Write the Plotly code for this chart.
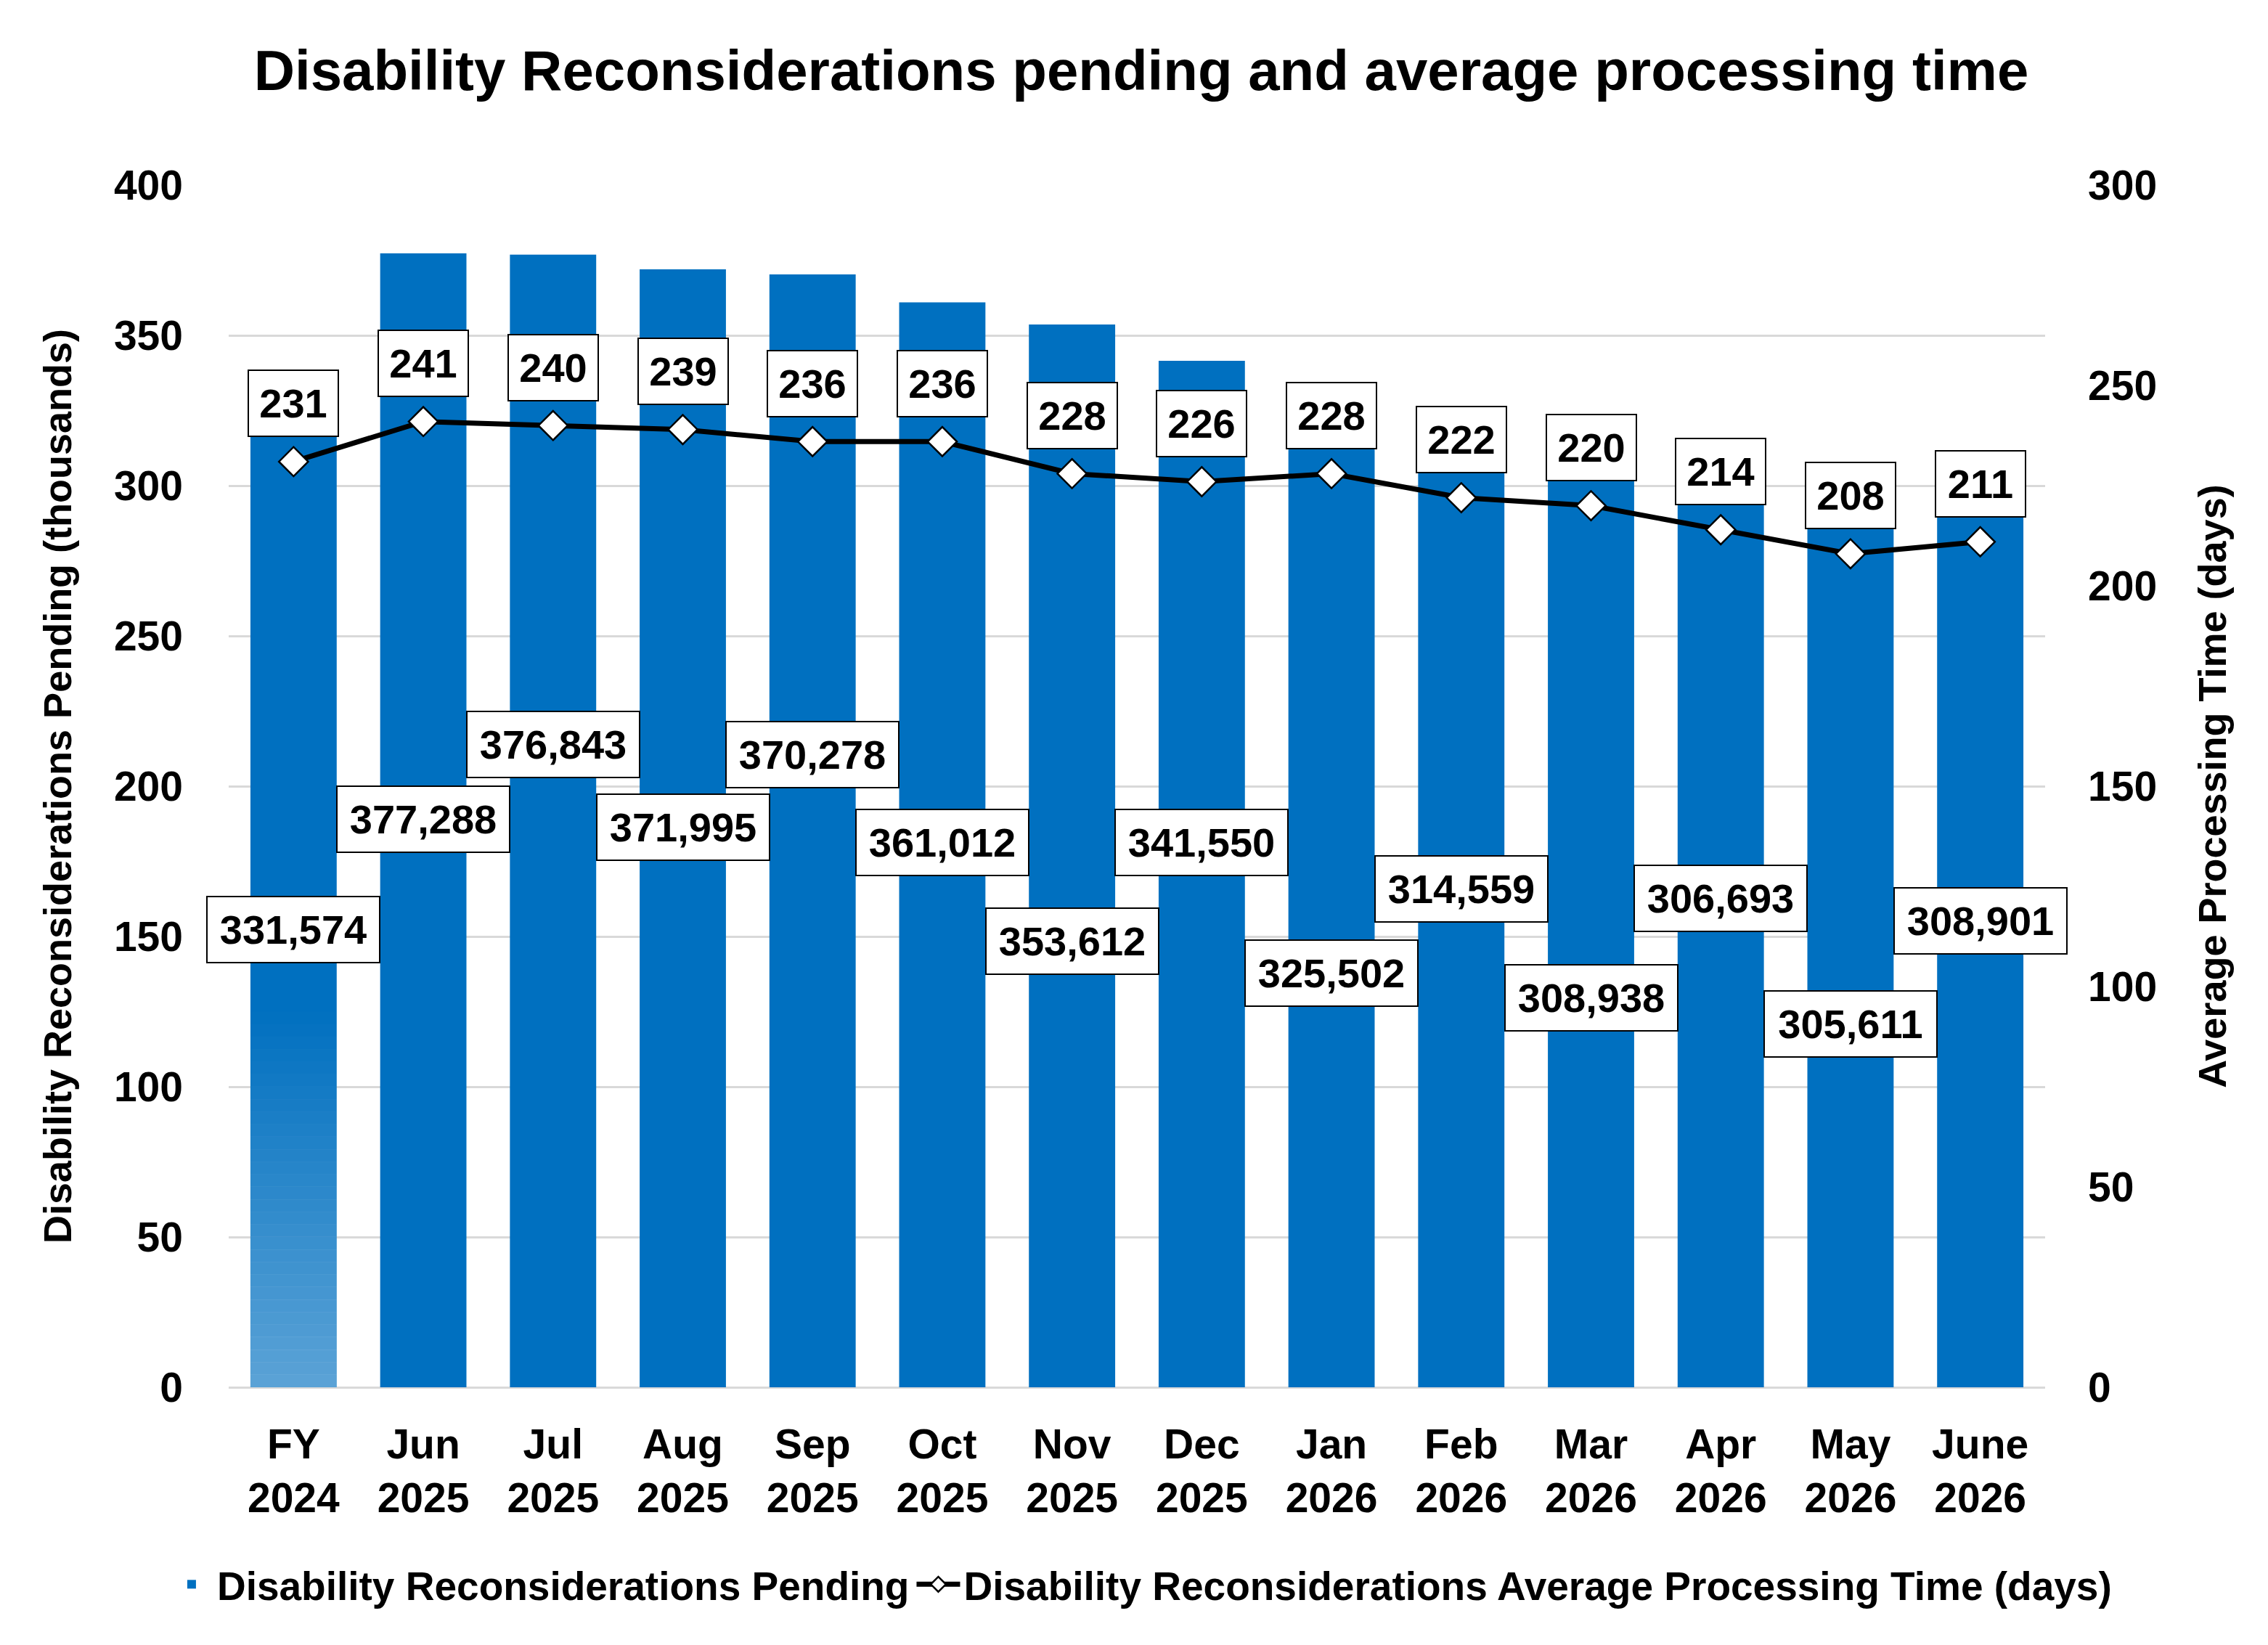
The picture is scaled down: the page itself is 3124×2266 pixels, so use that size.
import plotly.graph_objects as go

# ---------------- data ----------------
CATEGORIES = ["FY 2024", "Jun 2025", "Jul 2025", "Aug 2025", "Sep 2025", "Oct 2025",
              "Nov 2025", "Dec 2025", "Jan 2026", "Feb 2026", "Mar 2026", "Apr 2026",
              "May 2026", "June 2026"]
PENDING = [331574, 377288, 376843, 371995, 370278, 361012, 353612, 341550,
           325502, 314559, 308938, 306693, 305611, 308901]
AVG_DAYS = [231, 241, 240, 239, 236, 236, 228, 226, 228, 222, 220, 214, 208, 211]

BAR_NAME = "Disability Reconsiderations Pending"
LINE_NAME = "Disability Reconsiderations Average Processing Time (days)"
TITLE = "Disability Reconsiderations pending and average processing time"
Y1_TITLE = "Disability Reconsiderations Pending (thousands)"
Y2_TITLE = "Average Processing Time (days)"

# label placement (style: vertical centre of each bar-value box, in thousands)
BAR_LABEL_Y = [152.2, 189.1, 214.0, 186.4, 210.4, 181.4, 148.5, 181.4,
               137.9, 165.9, 129.7, 162.6, 121.0, 155.3]

# ---------------- style ----------------
BLUE = "#0070C0"
GRID = "#D9D9D9"
NUM_FONT = "Liberation Sans, Arial, sans-serif"
TXT_FONT = "Liberation Sans, Arial, sans-serif"
BAR_W = 0.665

# page has an 8px body margin; figure sized so it fits the 3124x2266 window
FIG_W, FIG_H = 3108, 2250

pending_k = [v / 1000 for v in PENDING]

fig = go.Figure()
fig.add_trace(go.Bar(
    x=CATEGORIES, y=pending_k, name=BAR_NAME, legendgroup="pending",
    marker=dict(color=BLUE, line=dict(width=0)),
    yaxis="y", hoverinfo="skip",
))
fig.add_trace(go.Scatter(
    x=CATEGORIES, y=AVG_DAYS, name=LINE_NAME, yaxis="y2", legendgroup="days",
    mode="lines+markers",
    line=dict(color="black", width=7),
    marker=dict(symbol="diamond", size=31, color="white",
                line=dict(color="black", width=2.5)),
    hoverinfo="skip",
))

# gradient on the first (fiscal-year) bar: white veil fading upward
n_bands = 30
grad_top = 125.0
for i in range(n_bands):
    y0 = grad_top * i / n_bands
    y1 = grad_top * (i + 1) / n_bands
    mid = (y0 + y1) / 2
    op = 0.36 * (1 - mid / grad_top)
    fig.add_shape(type="rect", xref="x", yref="y",
                  x0=CATEGORIES[0], x1=CATEGORIES[0],
                  x0shift=-BAR_W / 2, x1shift=BAR_W / 2,
                  y0=y0, y1=y1 + 0.05,
                  fillcolor=f"rgba(255,255,255,{op:.3f})",
                  line=dict(width=0), layer="above")

annotations = []
for cat, val, ly in zip(CATEGORIES, PENDING, BAR_LABEL_Y):
    annotations.append(dict(
        x=cat, y=ly, xref="x", yref="y", text=f"{val:,}", showarrow=False,
        font=dict(family=NUM_FONT, size=56, color="black", weight="bold"),
        bgcolor="white", bordercolor="black", borderwidth=2, borderpad=0,
        width=236, height=89, xanchor="center", yanchor="middle",
    ))
for cat, val in zip(CATEGORIES, AVG_DAYS):
    annotations.append(dict(
        x=cat, y=val, xref="x", yref="y2", text=f"{val}", showarrow=False,
        yshift=80,
        font=dict(family=NUM_FONT, size=56, color="black", weight="bold"),
        bgcolor="white", bordercolor="black", borderwidth=2, borderpad=0,
        width=122, height=89, xanchor="center", yanchor="middle",
    ))

fig.update_layout(
    width=FIG_W, height=FIG_H,
    paper_bgcolor="white", plot_bgcolor="white",
    margin=dict(l=307, r=299, t=247, b=347),
    bargap=1 - BAR_W,
    title=dict(text=TITLE, x=1564 / FIG_W, xref="container", xanchor="center",
               y=1 - 89 / FIG_H, yref="container", yanchor="middle",
               font=dict(family=TXT_FONT, size=78, color="black", weight="bold")),
    xaxis=dict(
        type="category", categoryorder="array", categoryarray=CATEGORIES,
        range=[-0.5, len(CATEGORIES) - 0.5], autorange=False,
        tickmode="array", tickvals=CATEGORIES,
        ticktext=[c.replace(" ", "<br>") for c in CATEGORIES],
        tickfont=dict(family=TXT_FONT, size=57, color="black", weight="bold"),
        showgrid=False, showline=False, ticks="", ticklabelstandoff=40,
        automargin=False,
    ),
    yaxis=dict(
        range=[0, 400], dtick=50, tick0=0,
        showgrid=True, gridcolor=GRID, gridwidth=2.5,
        zeroline=True, zerolinecolor=GRID, zerolinewidth=2.5,
        showline=False, ticks="", ticklabelstandoff=62,
        tickfont=dict(family=NUM_FONT, size=57, color="black", weight="bold"),
        title=dict(text=Y1_TITLE, standoff=40,
                   font=dict(family=TXT_FONT, size=54, color="black", weight="bold")),
        automargin=False,
    ),
    yaxis2=dict(
        range=[0, 300], dtick=50, tick0=0, overlaying="y", side="right",
        showgrid=False, zeroline=False, showline=False, ticks="",
        ticklabelstandoff=58,
        tickfont=dict(family=NUM_FONT, size=57, color="black", weight="bold"),
        title=dict(text=Y2_TITLE, standoff=58,
                   font=dict(family=TXT_FONT, size=54, color="black", weight="bold")),
        automargin=False,
    ),
    legend=dict(orientation="h", x=-0.0344, xanchor="left",
                y=-0.164, yanchor="middle",
                traceorder="normal", itemwidth=60, tracegroupgap=40,
                font=dict(family=TXT_FONT, size=55, color="black", weight="bold"),
                bgcolor="rgba(0,0,0,0)"),
    annotations=annotations,
    showlegend=True,
)

fig.write_html("out.html")
